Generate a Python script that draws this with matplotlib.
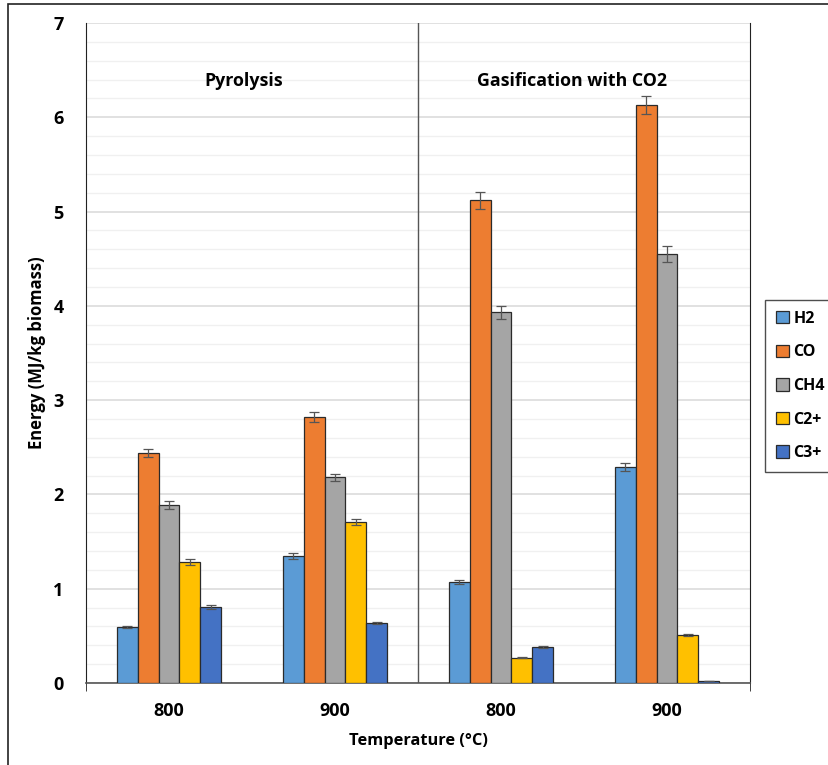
import numpy as np
import matplotlib
matplotlib.use('Agg')
import matplotlib.pyplot as plt
from matplotlib.patches import Rectangle

# dados
temperaturas = ['800', '900', '800', '900']
gases = ['H2', 'CO', 'CH4', 'C2+', 'C3+']
cores = ['#5B9BD5', '#ED7D31', '#A5A5A5', '#FFC000', '#4472C4']

h2 = [0.59, 1.35, 1.07, 2.29]
co = [2.44, 2.82, 5.12, 6.13]
ch4 = [1.89, 2.18, 3.93, 4.55]
c2 = [1.28, 1.71, 0.27, 0.51]
c3 = [0.81, 0.64, 0.38, 0.02]

err_h2 = [0.01, 0.03, 0.02, 0.04]
err_co = [0.04, 0.05, 0.09, 0.10]
err_ch4 = [0.04, 0.04, 0.07, 0.08]
err_c2 = [0.03, 0.03, 0.01, 0.01]
err_c3 = [0.02, 0.01, 0.01, 0.0]

valores = [h2, co, ch4, c2, c3]
erros = [err_h2, err_co, err_ch4, err_c2, err_c3]

plt.rcParams['font.family'] = ['Open Sans', 'DejaVu Sans']
plt.rcParams['font.weight'] = 'bold'

fig = plt.figure(figsize=(8.29, 7.65), dpi=100)
ax = fig.add_axes([86 / 829, 1 - 683 / 765, (750 - 86) / 829, (683 - 23) / 765])

x = np.arange(len(temperaturas))
largura = 0.126
for i, (gas, cor) in enumerate(zip(gases, cores)):
    pos = x + (i - 2) * largura
    ax.bar(pos, valores[i], largura, color=cor, edgecolor='#2b2b2b', linewidth=0.9,
           label=gas, zorder=3)
    ax.errorbar(pos, valores[i], yerr=erros[i], fmt='none', ecolor='#555555',
                elinewidth=0.9, capsize=3.5, capthick=0.9, zorder=4)

ax.set_xlim(-0.5, 3.5)
ax.set_ylim(0, 7)
ax.set_yticks(range(0, 8))
ax.set_yticks(np.arange(0, 7.01, 0.2), minor=True)
ax.tick_params(axis='y', which='both', length=0, labelsize=13, pad=16)
ax.tick_params(axis='x', which='major', length=0, labelsize=13, pad=14)
ax.set_xticks(x)
ax.set_xticklabels(temperaturas, fontweight='bold')
for lbl in ax.get_yticklabels():
    lbl.set_fontweight('bold')
ax.set_xticks([-0.5, 3.5], minor=True)
ax.tick_params(axis='x', which='minor', length=6, color='#222222')

ax.grid(axis='y', which='major', color='#dcdcdc', linewidth=1.2, zorder=0)
ax.grid(axis='y', which='minor', color='#f0f0f0', linewidth=1.0, zorder=0)
ax.set_axisbelow(True)

ax.spines['top'].set_visible(False)
ax.spines['left'].set_color('#222222')
ax.spines['right'].set_color('#222222')
ax.spines['bottom'].set_color('#555555')
ax.spines['bottom'].set_linewidth(1.2)

ax.axvline(1.5, color='#555555', linewidth=1.0, zorder=2)

ax.text(0.45, 6.39, 'Pyrolysis', ha='center', va='center', fontsize=12.8, fontweight='bold')
ax.text(2.43, 6.39, 'Gasification with CO2', ha='center', va='center', fontsize=12.8,
        fontweight='bold')

ax.set_ylabel('Energy (MJ/kg biomass)', fontsize=12, fontweight='bold', labelpad=5)
ax.set_xlabel('Temperature (°C)', fontsize=11.8, fontweight='bold', labelpad=9)

leg = ax.legend(loc='center left', bbox_to_anchor=(1.022, 0.45), frameon=True,
                fancybox=False, edgecolor='#222222', fontsize=11.5, handlelength=0.8,
                handleheight=0.8, handletextpad=0.3, labelspacing=1.1,
                borderpad=0.7, borderaxespad=0)
for t in leg.get_texts():
    t.set_fontweight('bold')

# moldura externa
fig.patches.append(Rectangle((8 / 829, -0.05), 1.1, 1.05 - 4 / 765,
                             transform=fig.transFigure, fill=False,
                             edgecolor='#222222', linewidth=1.2))

fig.savefig('out.png', dpi=100)
